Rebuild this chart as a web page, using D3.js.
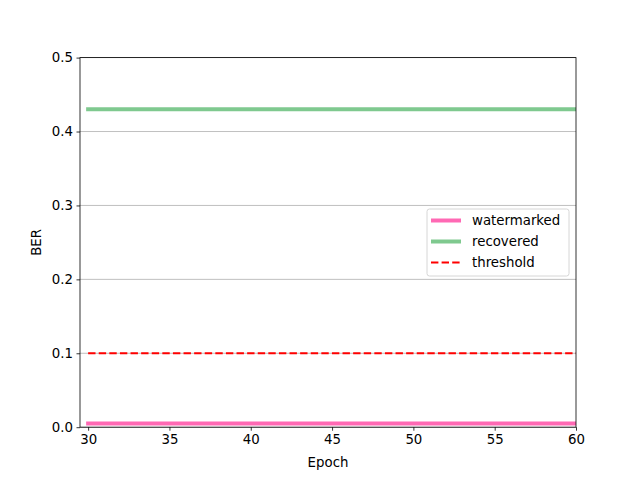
<!DOCTYPE html>
<html>
<head>
<meta charset="utf-8">
<script src="https://cdn.jsdelivr.net/npm/d3@7"></script>
<style>
  body { margin: 0; background: #fff; }
  text { font-family: "DejaVu Sans", sans-serif; }
</style>
</head>
<body>
<div id="chart"></div>
<script>
var epochs = [30, 31, 32, 33, 34, 35, 36, 37, 38, 39, 40, 41, 42, 43, 44, 45,
              46, 47, 48, 49, 50, 51, 52, 53, 54, 55, 56, 57, 58, 59, 60];
var watermarked = [0.005, 0.005, 0.005, 0.005, 0.005, 0.005, 0.005, 0.005, 0.005, 0.005, 0.005,
                   0.005, 0.005, 0.005, 0.005, 0.005, 0.005, 0.005, 0.005, 0.005, 0.005,
                   0.005, 0.005, 0.005, 0.005, 0.005, 0.005, 0.005, 0.005, 0.005, 0.005];
var recovered = [0.43, 0.43, 0.43, 0.43, 0.43, 0.43, 0.43, 0.43, 0.43, 0.43, 0.43,
                 0.43, 0.43, 0.43, 0.43, 0.43, 0.43, 0.43, 0.43, 0.43, 0.43,
                 0.43, 0.43, 0.43, 0.43, 0.43, 0.43, 0.43, 0.43, 0.43, 0.43];
var threshold = 0.1;
var xTicks = [30, 35, 40, 45, 50, 55, 60];
var yTicks = [0.0, 0.1, 0.2, 0.3, 0.4, 0.5];

var margin = {top: 57.6, right: 64, bottom: 52.8, left: 80},
    width = 640 - margin.left - margin.right,
    height = 480 - margin.top - margin.bottom;

var svg = d3.select("#chart")
  .append("svg")
    .attr("width", 640)
    .attr("height", 480)
  .append("g")
    .attr("transform", "translate(" + margin.left + "," + margin.top + ")");

svg.append("clipPath")
  .attr("id", "clip")
  .append("rect")
    .attr("width", width)
    .attr("height", height);

var x = d3.scaleLinear()
  .domain([29.5, 60])
  .range([0, width]);

var y = d3.scaleLinear()
  .domain([0, 0.5])
  .range([height, 0]);

// grid
svg.append("g")
  .selectAll("line")
  .data(yTicks)
  .enter()
  .append("line")
    .attr("x1", 0)
    .attr("x2", width)
    .attr("y1", function(d) { return y(d); })
    .attr("y2", function(d) { return y(d); })
    .style("stroke", "#b0b0b0")
    .style("stroke-width", 0.8);

var line = d3.line()
  .x(function(d) { return x(d[0]); })
  .y(function(d) { return y(d[1]); });

var plot = svg.append("g").attr("clip-path", "url(#clip)");

plot.append("path")
  .datum(d3.zip(epochs, watermarked))
  .attr("d", line)
  .style("fill", "none")
  .style("stroke", "#ff69b4")
  .style("stroke-width", 4)
  .style("stroke-linecap", "square");

plot.append("path")
  .datum(d3.zip(epochs, recovered))
  .attr("d", line)
  .style("fill", "none")
  .style("stroke", "#7fc98f")
  .style("stroke-width", 4)
  .style("stroke-linecap", "square");

plot.append("line")
  .attr("x1", x(epochs[0]))
  .attr("x2", x(epochs[epochs.length - 1]))
  .attr("y1", y(threshold))
  .attr("y2", y(threshold))
  .style("stroke", "red")
  .style("stroke-width", 2)
  .style("stroke-dasharray", "7.4,3.2");

// axes
var xAxis = svg.append("g")
  .attr("transform", "translate(0," + height + ")")
  .call(d3.axisBottom(x).tickValues(xTicks).tickSize(3.5).tickPadding(3.5));
var yAxis = svg.append("g")
  .call(d3.axisLeft(y).tickValues(yTicks).tickFormat(d3.format(".1f")).tickSize(3.5).tickPadding(3.5));

[xAxis, yAxis].forEach(function(a) {
  a.select(".domain").remove();
  a.selectAll("text").style("font-size", "13.33px").style("font-family", "DejaVu Sans").attr("fill", "#000");
  a.selectAll("line").style("stroke", "#000").style("stroke-width", 0.8);
});

// frame
svg.append("rect")
  .attr("width", width)
  .attr("height", height)
  .style("fill", "none")
  .style("stroke", "#000")
  .style("stroke-width", 0.8);

svg.append("text")
  .attr("x", width / 2)
  .attr("y", height + 40)
  .attr("text-anchor", "middle")
  .style("font-size", "13.33px")
  .text("Epoch");

svg.append("text")
  .attr("transform", "translate(" + (-39) + "," + (height / 2) + ") rotate(-90)")
  .attr("text-anchor", "middle")
  .style("font-size", "13.33px")
  .text("BER");

// legend
var legendItems = [
  {name: "watermarked", color: "#ff69b4", width: 4, dash: null},
  {name: "recovered", color: "#7fc98f", width: 4, dash: null},
  {name: "threshold", color: "red", width: 2, dash: "7.4,3.2"}
];

var legend = svg.append("g")
  .attr("transform", "translate(" + (427 - margin.left) + "," + (209 - margin.top) + ")");

legend.append("rect")
  .attr("width", 142)
  .attr("height", 67)
  .attr("rx", 2.5)
  .style("fill", "#fff")
  .style("fill-opacity", 0.8)
  .style("stroke", "#cccccc")
  .style("stroke-width", 0.8);

var item = legend.selectAll(".item")
  .data(legendItems)
  .enter()
  .append("g")
    .attr("transform", function(d, i) { return "translate(0," + (11.5 + i * 21) + ")"; });

item.append("line")
  .attr("x1", 4)
  .attr("x2", 34)
  .style("stroke", function(d) { return d.color; })
  .style("stroke-width", function(d) { return d.width; })
  .style("stroke-dasharray", function(d) { return d.dash; });

item.append("text")
  .attr("x", 45)
  .attr("y", 4.5)
  .style("font-size", "13.33px")
  .text(function(d) { return d.name; });
</script>
</body>
</html>
